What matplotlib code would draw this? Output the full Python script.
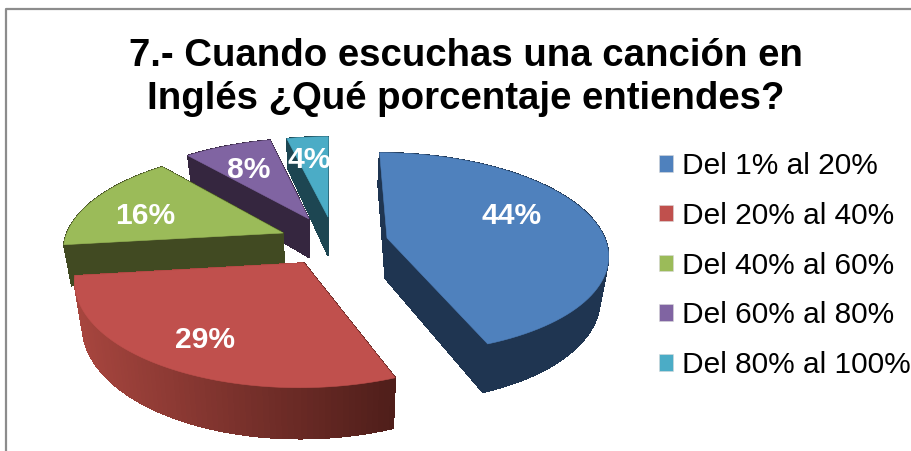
import numpy as np
import matplotlib
matplotlib.use('Agg')
import matplotlib.pyplot as plt
from matplotlib.colors import to_rgb
from matplotlib.patches import Patch, Polygon

plt.rcParams['font.family'] = ['Liberation Sans', 'DejaVu Sans']

# Chart data (labels show them rounded)
title = '7.- Cuando escuchas una canción en\nInglés ¿Qué porcentaje entiendes?'
labels = ['Del 1% al 20%', 'Del 20% al 40%', 'Del 40% al 60%', 'Del 60% al 80%', 'Del 80% al 100%']
values = [44.1, 29.0, 15.7, 7.6, 3.6]

# Slice colours: top face, side at the left end, side at the right end
top_colors = ['#4f81bd', '#c0504d', '#9bbb59', '#8064a2', '#4bacc6']
side_left = ['#1f3551', '#a8463f', '#414a22', '#35263f', '#1d4652']
side_right = ['#1f3551', '#4f1e1a', '#414a22', '#35263f', '#1d4652']

# Layout in pixels: exploded apex of each slice, centre of each label
apex_px = [(387, 238), (304, 263), (283, 233), (309, 219), (328, 217)]
label_px = [(512, 215.5), (205, 340.5), (145, 215.5), (249, 170.5), (309, 160.5)]

# Perspective of the pie
XC, YC = 330, 245
RX, RY = 220, 100
K = 0.15
SHRINK = 0.97


def project(wx, wy):
    s = 1 / (1 + K * wy)
    return XC + RX * wx * s, YC - RY * wy * s


def unproject(x, y):
    h = (YC - y) / RY
    wy = h / (1 - K * h)
    s = 1 / (1 + K * wy)
    return (x - XC) / (RX * s), wy


def project_bottom(wx, wy):
    x, y = project(wx, wy)
    return XC + (x - XC) * SHRINK, y + 41 - 8.5 * wy


fig = plt.figure(figsize=(9.12, 4.51), dpi=100)
ax = fig.add_axes([0, 0, 1, 1])
ax.set_xlim(0, 912)
ax.set_ylim(451, 0)
ax.axis('off')

# Chart frame, only top and left show in the crop
ax.plot([6, 6, 912], [451, 9, 9], color='#8c8c8c', lw=1.6)

shares = np.array(values) / sum(values)
ends = np.cumsum(shares) * 2 * np.pi
starts = ends - shares * 2 * np.pi

# Back slices first so the front ones cover them
for i in [4, 3, 2, 1, 0]:
    ox, oy = unproject(*apex_px[i])
    t = np.linspace(starts[i], ends[i], 80)
    wx = np.concatenate([[ox], ox + np.sin(t)])
    wy = np.concatenate([[oy], oy + np.cos(t)])
    top = np.array(project(wx, wy)).T
    bot = np.array(project_bottom(wx, wy)).T

    n = len(top)
    xmin, xmax = top[:, 0].min(), top[:, 0].max()
    c1, c2 = np.array(to_rgb(side_left[i])), np.array(to_rgb(side_right[i]))

    # Side walls: a soft pass for smooth edges, then a pass without
    # antialiasing because antialiased neighbours leave stripes
    order = sorted(range(n), key=lambda j: top[j, 1] + top[(j + 1) % n, 1])
    for j in order:
        j2 = (j + 1) % n
        quad = [top[j], top[j2], bot[j2], bot[j]]
        f = (top[j, 0] - xmin) / (xmax - xmin)
        col = c1 + (c2 - c1) * f
        ax.add_patch(Polygon(quad, closed=True, facecolor=col, edgecolor='none', lw=0, alpha=0.6))
    for j in order:
        j2 = (j + 1) % n
        quad = [top[j], top[j2], bot[j2], bot[j]]
        f = (top[j, 0] - xmin) / (xmax - xmin)
        col = c1 + (c2 - c1) * f
        ax.add_patch(Polygon(quad, closed=True, facecolor=col, edgecolor=col, lw=0.5, antialiased=False))

    ax.add_patch(Polygon(top, closed=True, facecolor=top_colors[i], edgecolor=top_colors[i], lw=0.4))

for v, (x, y) in zip(values, label_px):
    ax.text(x, y, f'{v:.0f}%', color='white', fontsize=21.6, fontweight='bold', ha='center', va='center')

ax.text(466, 77.5, title, fontsize=27.6, fontweight='bold', ha='center', va='center',
        linespacing=1.24, color='black')

handles = [Patch(facecolor=c, edgecolor='#d8d8d8', lw=0.4) for c in top_colors]
ax.legend(handles, labels, loc='upper left', bbox_to_anchor=(659, 152), bbox_transform=ax.transData,
          frameon=False, fontsize=21.5, labelspacing=0.73, handlelength=0.48, handleheight=0.48,
          handletextpad=0.3, borderpad=0, borderaxespad=0)

fig.savefig('out.png', dpi=100)
